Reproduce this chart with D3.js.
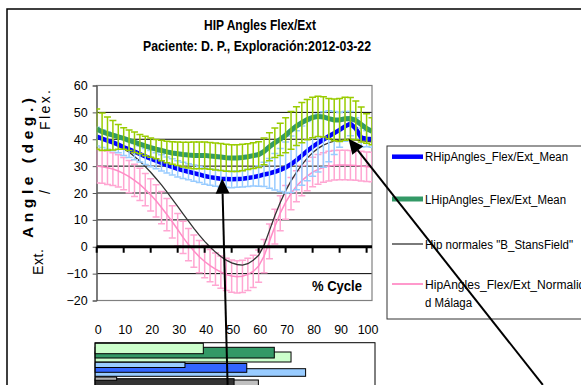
<!DOCTYPE html>
<html><head><meta charset="utf-8">
<script src="https://cdn.jsdelivr.net/npm/d3@7"></script>
<style>
body{margin:0;background:#fff;}
svg{display:block;font-family:"Liberation Sans",Arial,sans-serif;}
</style>
</head><body><svg id="c" width="581" height="385"></svg>
<script>
// ---------- DATA ----------
const pct = [0,2,4,6,8,10,12,14,16,18,20,22,24,26,28,30,32,34,36,38,40,42,44,46,48,50,52,54,56,58,60,62,64,66,68,70,72,74,76,78,80,82,84,86,88,90,92,94,96,98,100,102];
const rMean = [41.0,40.2,39.5,38.8,38.0,37.0,36.2,35.4,34.5,33.6,32.8,32.0,31.2,30.4,29.7,29.0,28.4,27.9,27.4,26.9,26.3,25.9,25.6,25.3,25.2,25.1,25.2,25.3,25.6,25.9,26.3,26.9,27.3,27.9,28.6,29.5,30.7,32.2,33.9,35.6,37.2,38.6,39.9,41.1,42.3,43.5,44.8,45.8,44.0,40.6,40.2,40.0];
const rSd = [3.5,3.3,3.2,3.1,3.0,3.0,3.0,3.0,3.0,3.0,3.0,3.0,3.0,3.0,3.0,3.0,3.0,3.0,3.0,3.0,3.0,3.0,3.1,3.1,3.1,3.1,3.1,3.1,3.2,3.3,3.8,4.5,5.5,6.8,8.0,9.5,10.5,11.0,11.0,11.0,11.0,10.8,10.3,9.5,8.0,6.5,5.5,4.5,4.0,3.5,3.0,3.0];
const lMean = [43.8,42.8,42.1,41.5,40.9,40.3,39.6,38.9,38.2,37.5,36.9,36.3,35.8,35.3,34.9,34.6,34.3,34.1,34.0,34.0,34.0,33.8,33.6,33.4,33.1,33.0,33.0,33.2,33.5,33.9,34.3,35.5,37.2,38.7,40.0,41.5,43.3,44.9,46.2,47.3,48.1,48.5,48.3,47.7,47.2,47.2,47.6,47.7,47.0,45.5,44.0,43.0];
const lSd = [7.5,7.0,6.2,5.5,4.6,4.0,3.8,3.8,3.6,3.6,3.6,3.6,3.8,4.0,4.2,4.4,4.6,4.8,5.0,5.0,5.0,5.0,5.0,5.0,5.0,5.0,5.0,4.9,4.8,4.8,4.8,5.0,5.2,5.5,6.0,6.5,7.0,7.2,7.5,7.5,7.5,7.5,7.5,7.5,7.8,8.0,8.0,7.8,7.2,6.5,5.5,5.0];
const stansfield = [40.5,40.0,39.4,38.6,37.6,36.5,35.2,33.6,31.8,29.8,27.7,25.4,23.0,20.4,17.7,15.0,12.2,9.5,6.8,4.3,2.0,-0.1,-2.0,-3.6,-5.0,-6.0,-6.6,-6.8,-6.3,-5.0,-3.2,0.5,6.0,11.5,16.5,20.8,24.5,27.7,30.5,33.0,35.0,36.6,37.8,38.7,39.3,39.7,39.9,39.9,39.7,39.5,39.2,39.0];
const malagaMean = [30.0,29.8,29.4,28.9,28.2,27.2,26.1,24.7,23.2,21.3,19.3,17.1,14.6,12.0,9.3,6.4,3.5,0.8,-1.6,-3.7,-5.5,-7.0,-8.3,-9.4,-10.3,-10.9,-11.2,-11.0,-10.3,-9.2,-7.2,-3.5,2.0,7.5,12.5,16.5,19.8,22.5,24.6,26.3,27.8,28.8,29.5,30.0,30.3,30.4,30.4,30.3,30.2,30.0,29.8,29.7];
const malagaSd = [6.3,6.2,6.2,6.1,6.0,6.0,6.0,6.0,6.0,6.0,6.0,6.0,6.0,6.0,6.0,6.0,6.0,6.0,6.0,6.0,6.0,6.0,6.0,6.0,6.0,6.0,6.0,6.0,6.0,6.0,6.0,6.2,6.5,6.5,6.5,6.3,6.0,5.8,5.6,5.5,5.5,5.5,5.5,5.5,5.5,5.5,5.5,5.5,5.5,5.5,5.5,5.5];
const yTicks = [60,50,40,30,20,10,0,-10,-20];
const xTicks = [0,10,20,30,40,50,60,70,80,90,100];
const seriesNames = ["RHipAngles_Flex/Ext_Mean","LHipAngles_Flex/Ext_Mean","Hip normales \"B_StansField\"","HipAngles_Flex/Ext_Normalidad Málaga"];
// gait phase bars (start %, end %)
const phaseStart = [0,0,0,0,0,0,0,0,0];
const phaseEnd   = [72.0,65.8,39.5,77.4,55.6,32.7,59.9,50.9,7.4];
// arrows: [tip %, tip deg, tail %, tail deg]
const arrows = [[46.5,25.4,48.5,-51.4],[93.3,40.2,165.3,-51.4]];

// ---------- STYLE / LAYOUT ----------
const phaseLayout = [ // [top, bottom, fill]
  [352,362,"#ccffcc"],[347.3,358,"#339966"],[343.3,353.7,"#ccffcc"],
  [368.7,376.3,"#99ccff"],[363.5,372.3,"#3366ff"],[362.3,367.5,"#99ccff"],
  [380,392,"#c0c0c0"],[378.7,392,"#333333"],[377,380.3,"#b0b0b0"]
];

const svg = d3.select("#c");
svg.append("rect").attr("width",581).attr("height",385).attr("fill","#fff");

const x = d3.scaleLinear().domain([0,102]).range([96.7,372]);
const y = d3.scaleLinear().domain([-20,60]).range([300.5,85.5]);
const X0 = x(0), X1 = x(102), Yt = y(60), Yb = y(-20);

// outer chart frame
svg.append("path").attr("d","M7,390V9H590").attr("fill","none").attr("stroke","#000").attr("stroke-width",1.5);

// titles
svg.append("text").attr("x",260).attr("y",30).attr("text-anchor","middle")
  .attr("font-weight","bold").attr("font-size",14).attr("textLength",112).attr("lengthAdjust","spacingAndGlyphs")
  .text("HIP Angles Flex/Ext");
svg.append("text").attr("x",257).attr("y",51).attr("text-anchor","middle")
  .attr("font-weight","bold").attr("font-size",14).attr("textLength",228).attr("lengthAdjust","spacingAndGlyphs")
  .text("Paciente: D. P., Exploración:2012-03-22");

// plot area
const defs = svg.append("defs");
defs.append("clipPath").attr("id","pc").append("rect")
  .attr("x",X0).attr("y",Yt).attr("width",X1-X0).attr("height",Yb-Yt);

// gridlines
svg.append("g").selectAll("line").data(yTicks.filter(v=>v!==0 && v!==60 && v!==-20)).join("line")
  .attr("x1",X0).attr("x2",X1).attr("y1",d=>y(d)).attr("y2",d=>y(d))
  .attr("stroke","#000").attr("stroke-width",1);
// border
svg.append("rect").attr("x",X0).attr("y",Yt).attr("width",X1-X0).attr("height",Yb-Yt)
  .attr("fill","none").attr("stroke","#808080").attr("stroke-width",1.2);

// y axis
const yAxisG = svg.append("g").attr("transform",`translate(${X0},0)`)
  .call(d3.axisLeft(y).tickValues(yTicks).tickSize(4).tickFormat(d3.format("d")));
yAxisG.select(".domain").attr("stroke","#555");
yAxisG.selectAll(".tick line").attr("stroke","#555");
yAxisG.selectAll("text").attr("font-size",12.5).attr("fill","#000").attr("x",-9);

// y title
function rotText(t, px, py, opts){
  const el = svg.append("text").attr("transform",`translate(${px},${py}) rotate(-90)`)
    .attr("text-anchor","middle").text(t);
  for (const k in opts) el.attr(k, opts[k]);
  return el;
}
rotText("Angle (deg.)", 33, 168, {"font-weight":"bold","font-size":15.5,"textLength":140,"lengthAdjust":"spacing"});
rotText("Flex.", 50, 110, {"font-size":14,"textLength":40,"lengthAdjust":"spacing"});
rotText("/", 50, 192, {"font-size":14});
rotText("Ext.", 43, 262, {"font-size":14,"textLength":26,"lengthAdjust":"spacing"});

// series
const plot = svg.append("g").attr("clip-path","url(#pc)");
const mk = (arr)=>pct.map((p,i)=>({p, v:arr[i]}));
const line = d3.line().x(d=>x(d.p)).y(d=>y(d.v));

function errBars(g, mean, sd, color, cap){
  g.append("g").selectAll("path").data(pct.map((p,i)=>({p, m:mean[i], s:sd[i]}))).join("path")
    .attr("d", d=>{const X=x(d.p), a=y(d.m+d.s), b=y(d.m-d.s);
      return `M${X},${a}V${b}M${X-cap},${a}H${X+cap}M${X-cap},${b}H${X+cap}`;})
    .attr("fill","none").attr("stroke",color).attr("stroke-width",1.5);
}

// pink (Malaga)
errBars(plot, malagaMean, malagaSd, "#ffa6d2", 3.5);
plot.append("path").datum(mk(malagaMean)).attr("d",line).attr("fill","none").attr("stroke","#ff8cc6").attr("stroke-width",1.5);
// stansfield
plot.append("path").datum(mk(stansfield)).attr("d",line).attr("fill","none").attr("stroke","#333").attr("stroke-width",1.3);
// blue R
plot.append("path").datum(mk(rMean)).attr("d",line).attr("fill","none").attr("stroke","#0000ff").attr("stroke-width",4.5);
errBars(plot, rMean, rSd, "#99ccff", 3.5);
// green L
plot.append("path").datum(mk(lMean)).attr("d",line).attr("fill","none").attr("stroke","#339966").attr("stroke-width",5);
errBars(plot, lMean, lSd, "#99cc00", 3.5);

// zero axis (category axis)
svg.append("line").attr("x1",X0).attr("x2",X1).attr("y1",y(0)).attr("y2",y(0)).attr("stroke","#000").attr("stroke-width",3);
svg.append("g").selectAll("line").data(xTicks).join("line")
  .attr("x1",d=>x(d)).attr("x2",d=>x(d)).attr("y1",y(0)).attr("y2",y(0)+6)
  .attr("stroke","#000").attr("stroke-width",2);

// % Cycle
svg.append("text").attr("x",337).attr("y",291).attr("text-anchor","middle")
  .attr("font-weight","bold").attr("font-size",14).attr("textLength",50).attr("lengthAdjust","spacingAndGlyphs")
  .text("% Cycle");

// legend
const lg = svg.append("g");
lg.append("rect").attr("x",387).attr("y",146).attr("width",220).attr("height",173)
  .attr("fill","#fff").attr("stroke","#333").attr("stroke-width",1);
const legY = [156.7,199,244,284];
const legStroke = [["#0000ff",4.5],["#339966",5],["#222",1.2],["#ff99cc",2]];
const legLen = [143,141,148,null];
seriesNames.forEach((n,i)=>{
  lg.append("line").attr("x1",392).attr("x2",423).attr("y1",legY[i]).attr("y2",legY[i])
    .attr("stroke",legStroke[i][0]).attr("stroke-width",legStroke[i][1]);
  if (i<3){
    lg.append("text").attr("x",425).attr("y",legY[i]+4.5).attr("font-size",12.5)
      .attr("textLength",legLen[i]).attr("lengthAdjust","spacingAndGlyphs").text(n);
  } else {
    const parts = ["HipAngles_Flex/Ext_Normalida","d Málaga"];
    lg.append("text").attr("x",425).attr("y",legY[i]+4.5).attr("font-size",12.5)
      .attr("textLength",167).attr("lengthAdjust","spacingAndGlyphs").text(parts[0]);
    lg.append("text").attr("x",425).attr("y",legY[i]+22.5).attr("font-size",12.5)
      .attr("textLength",47).attr("lengthAdjust","spacingAndGlyphs").text(parts[1]);
  }
});

// bottom phase chart
const xb = x;
svg.append("g").selectAll("text").data(xTicks).join("text")
  .attr("x",d=>xb(d)+1.5).attr("y",334).attr("text-anchor","middle").attr("font-size",12.5).text(d=>d);
svg.append("rect").attr("x",95).attr("y",342.7).attr("width",280).attr("height",60)
  .attr("fill","#fff").attr("stroke","#000").attr("stroke-width",1);
svg.append("g").selectAll("rect").data(phaseEnd.map((e,i)=>({s:phaseStart[i], e, L:phaseLayout[i]}))).join("rect")
  .attr("x",d=>xb(d.s)-1.5).attr("width",d=>xb(d.e)-xb(d.s)+1.5)
  .attr("y",d=>d.L[0]).attr("height",d=>d.L[1]-d.L[0])
  .attr("fill",d=>d.L[2]).attr("stroke","#000").attr("stroke-width",1);

// arrows
arrows.forEach(a=>{
  const tx=x(a[0]), ty=y(a[1]), sx=x(a[2]), sy=y(a[3]);
  const dx=tx-sx, dy=ty-sy, L=Math.hypot(dx,dy), ux=dx/L, uy=dy/L;
  const hl=15, hw=7;
  const bx=tx-ux*hl, by=ty-uy*hl;
  svg.append("line").attr("x1",sx).attr("y1",sy).attr("x2",bx).attr("y2",by)
    .attr("stroke","#000").attr("stroke-width",2);
  svg.append("path").attr("d",`M${tx},${ty}L${bx-uy*hw},${by+ux*hw}L${bx+uy*hw},${by-ux*hw}Z`).attr("fill","#000");
});
</script></body></html>
